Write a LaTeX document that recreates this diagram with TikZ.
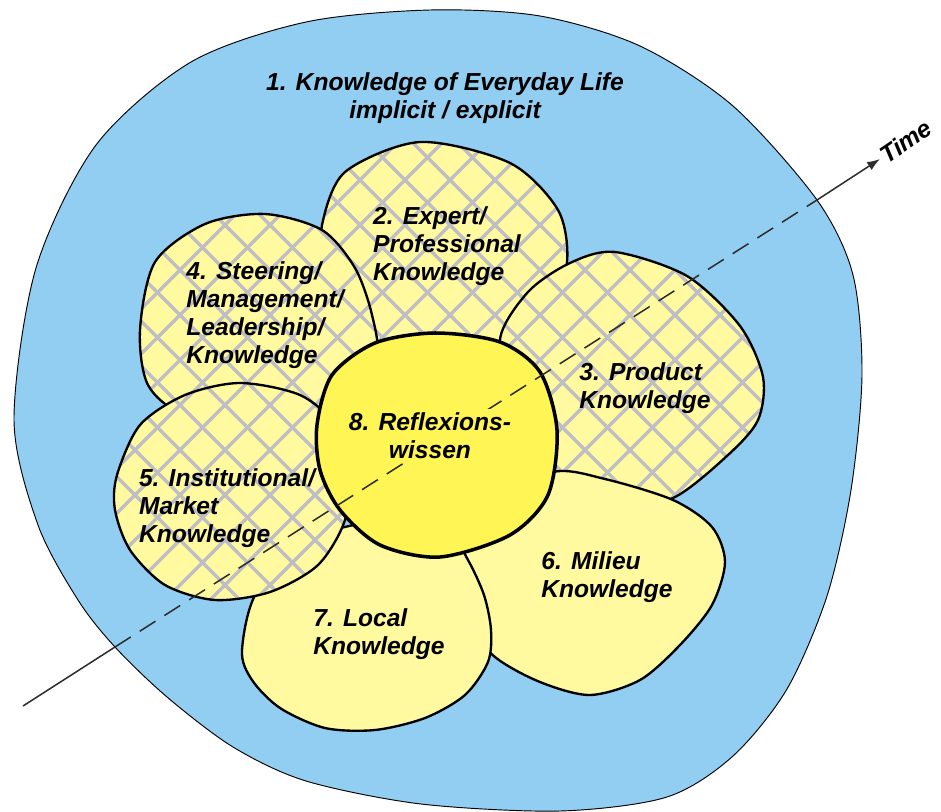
\documentclass[tikz,border=0pt]{standalone}
\usepackage{fontspec}
\setmainfont{Liberation Sans}
\usetikzlibrary{arrows.meta}
\definecolor{cielo}{RGB}{146,206,242}
\definecolor{amarillo}{RGB}{255,249,160}
\definecolor{amarillofuerte}{RGB}{255,245,85}
\definecolor{gris}{RGB}{190,190,196}
\definecolor{oscuro}{RGB}{45,45,45}

% contornos de los petalos
\newcommand{\petalodos}{plot[smooth cycle] coordinates {(322,225) (345,172) (420,142) (510,163) (558,210) (567,262) (548,310) (505,352) (440,362) (378,345) (345,300) (326,260)}}
\newcommand{\petalotres}{plot[smooth cycle] coordinates {(500,340) (528,292) (570,263) (615,252) (687,276) (740,326) (763,377) (758,420) (728,455) (673,498) (615,505) (548,470) (520,400)}}
\newcommand{\petalocuatro}{plot[smooth cycle] coordinates {(140,330) (155,262) (205,224) (265,214) (322,230) (355,268) (372,315) (376,360) (340,412) (260,425) (185,415) (148,385)}}
\newcommand{\petalocinco}{plot[smooth cycle] coordinates {(117,475) (140,425) (185,395) (240,383) (300,395) (335,425) (348,470) (345,520) (318,565) (270,592) (215,600) (165,585) (130,550) (115,510)}}
% rejilla diagonal
\newcommand{\rejilla}{\foreach \k in {-360,-315,...,1350} {\draw[hilo] (\k,0) -- ++(-900,900); \draw[hilo] (\k,0) -- ++(900,900);}}

\begin{document}
\begin{tikzpicture}[x=0.03cm,y=-0.03cm]

	%DEFINICIONES
	\tikzstyle{every node}=[font=\fontsize{21}{24}\selectfont\bfseries\itshape]
	\tikzstyle{fondo} = [draw, line width=0.8pt, fill=cielo]
	\tikzstyle{petalo} = [draw, line width=2pt, fill=amarillo]
	\tikzstyle{borde} = [draw, line width=2pt]
	\tikzstyle{hilo} = [line width=2.8pt, gris]
	\tikzstyle{nucleo} = [draw, line width=3pt, fill=amarillofuerte]
	\tikzstyle{texto} = [align=left, inner sep=0pt]
	\tikzstyle{eje} = [line width=1.3pt, draw=oscuro]
	\tikzstyle{punteado} = [eje, dash pattern=on 16pt off 9pt]
	\tikzstyle{flecha} = [eje, -{Latex[length=11pt,width=8pt]}]

	\useasboundingbox (0,0) rectangle (941,812);

	%FONDO
	\draw[fondo] plot[smooth cycle] coordinates {(14,420) (36,268) (96,145) (191,62) (306,22) (430,10) (540,16) (640,46) (733,106) (817,200) (853,275) (862,375) (851,490) (827,596) (787,689) (733,756) (667,797) (560,811) (421,804) (306,781) (233,747) (167,697) (115,647) (78,600) (38,525)};

	%PETALOS
	\begin{scope}
		\clip \petalodos;
		\fill[amarillo] (0,0) rectangle (941,812);
		\rejilla
	\end{scope}
	\draw[borde] \petalodos;
	\begin{scope}
		\clip \petalotres;
		\fill[amarillo] (0,0) rectangle (941,812);
		\rejilla
	\end{scope}
	\draw[borde] \petalotres;
	\begin{scope}
		\clip \petalocuatro;
		\fill[amarillo] (0,0) rectangle (941,812);
		\rejilla
	\end{scope}
	\draw[borde] \petalocuatro;
	\draw[petalo] plot[smooth cycle] coordinates {(553,472) (605,479) (673,500) (712,527) (725,562) (712,605) (680,645) (640,680) (590,695) (540,682) (495,657) (465,620) (458,570) (490,505)};
	\draw[petalo] plot[smooth cycle] coordinates {(242,650) (258,590) (320,535) (400,520) (450,535) (468,560) (484,595) (491,630) (488,662) (465,695) (425,718) (375,730) (325,728) (280,708) (252,680)};
	\begin{scope}
		\clip \petalocinco;
		\fill[amarillo] (0,0) rectangle (941,812);
		\rejilla
	\end{scope}
	\draw[borde] \petalocinco;

	%CENTRO
	\draw[nucleo] plot[smooth cycle] coordinates {(317,425) (332,375) (375,343) (435,333) (500,342) (540,372) (557,430) (548,495) (510,535) (440,557) (380,545) (340,510) (320,470)};

	%TIEMPO
	\draw(880,159) node[rotate=34, anchor=west, inner sep=2pt](tiempo){Time};
	\coordinate (inicio) at (23,706);
	\coordinate (entrada) at (115,647);
	\coordinate (salida) at (817,200);
	\draw[eje] (inicio) -- (entrada);
	\draw[punteado] (entrada) -- (salida);
	\draw[flecha] (salida) -- (tiempo.west);

	%TEXTOS
	\draw(445,98) node[align=center](n1){1. Knowledge of Everyday Life\\implicit / explicit};
	\draw(447,246) node[texto](n2){2. Expert/\\Professional\\Knowledge};
	\draw(645,388) node[texto](n3){3. Product\\Knowledge};
	\draw(265,315) node[texto](n4){4. Steering/\\Management/\\Leadership/\\Knowledge};
	\draw(227,508) node[texto](n5){5. Institutional/\\Market\\Knowledge};
	\draw(607,577) node[texto](n6){6. Milieu\\Knowledge};
	\draw(379,634) node[texto](n7){7. Local\\Knowledge};
	\draw(430,436) node[align=center, fill=amarillofuerte, inner sep=3pt](n8){8. Reflexions-\\wissen};
\end{tikzpicture}
\end{document}
